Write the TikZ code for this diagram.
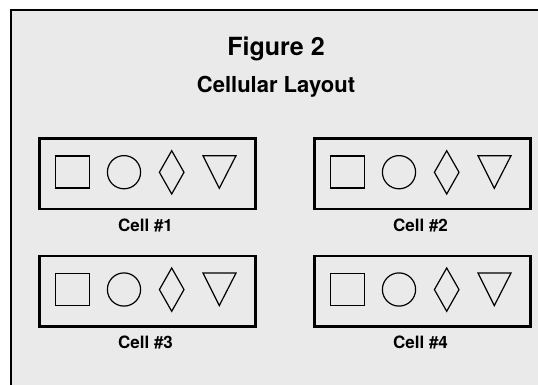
\documentclass[tikz,border=0pt]{standalone}
\usepackage{fontspec}
\setmainfont{TeX Gyre Heros}
\definecolor{panel}{HTML}{EAEAEA}
\begin{document}
\begin{tikzpicture}[x=1pt,y=-1pt,
  frame/.style={line width=1.5pt, draw=black},
  cellbox/.style={draw, line width=2.6pt, minimum width=216pt, minimum height=70.5pt, inner sep=0pt},
  glyph/.style={draw, line width=1.2pt, line join=miter},
  titletext/.style={font=\fontsize{25}{30}\selectfont\bfseries, inner sep=0pt, anchor=base},
  subtitletext/.style={font=\fontsize{22}{26}\selectfont\bfseries, inner sep=0pt, anchor=base},
  celllabel/.style={font=\fontsize{17}{20}\selectfont\bfseries, inner sep=0pt, anchor=base},
  ]
\useasboundingbox (0,0) rectangle (538,385);
% grey panel with a rule on its left and top edges
\fill[panel] (11,10) rectangle (538,385);
\draw[frame] (11,385) -- (11,10) -- (538,10);
% headings
\node[titletext] (title) at (276,56) {Figure 2};
\node[subtitletext] (subtitle) at (276,93) {Cellular Layout};
% the four cells: box, square, circle, diamond, triangle and caption
\foreach \n/\bx/\by in {1/38/137.3, 2/313/137.3, 3/38/254.6, 4/313/254.6} {
  \node[cellbox, anchor=north west] (cell\n) at (\bx,\by) {};
  \node[celllabel] (label\n) at (\bx+107.5,\by+93.7) {Cell \#\n};
  \draw[glyph] (\bx+17.7,\by+18.7) rectangle (\bx+51.3,\by+50.7);
  \draw[glyph] (\bx+86,\by+34.9) circle[radius=16.6pt];
  \draw[glyph] (\bx+133.7,\by+13.4) -- (\bx+146,\by+35) -- (\bx+133.7,\by+56.7)
               -- (\bx+121.4,\by+35) -- cycle;
  \draw[glyph] (\bx+165,\by+18.4) -- (\bx+198,\by+18.4) -- (\bx+181.3,\by+51) -- cycle;
}
\end{tikzpicture}
\end{document}
